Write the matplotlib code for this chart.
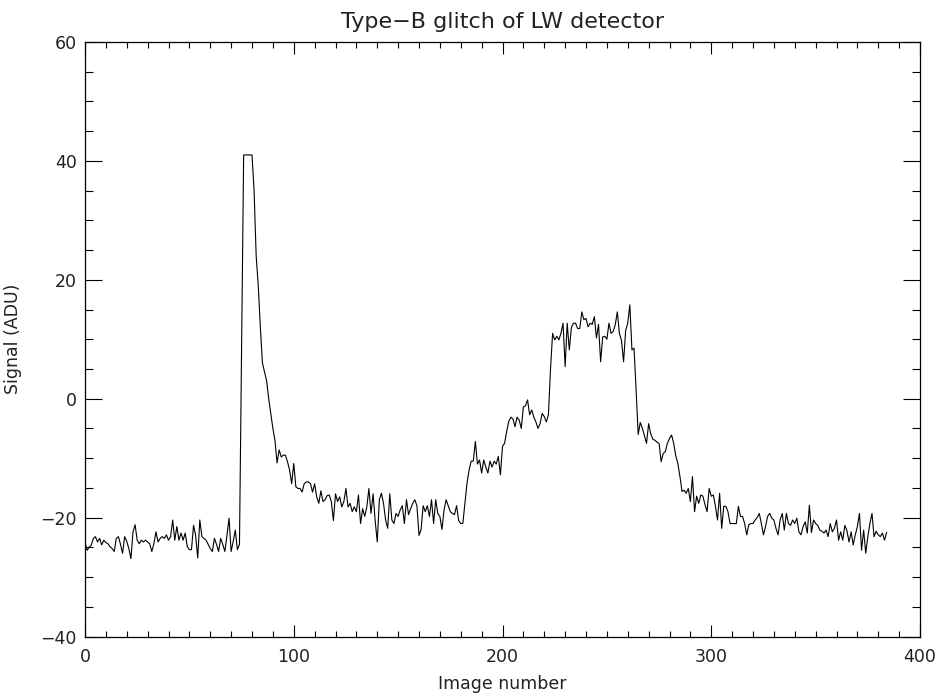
import numpy as np
import matplotlib
matplotlib.use("Agg")
import matplotlib.pyplot as plt
from matplotlib.ticker import MultipleLocator

# ---- data ----
pre_glitch = [
    -24.1, -25.5, -25.0, -24.6, -23.5, -23.2, -24.1, -23.5, -24.6, -23.8,
    -24.2, -24.4, -24.9, -25.2, -25.7, -23.5, -23.2, -24.5, -26.0, -23.2,
    -24.0, -25.2, -26.9, -22.4, -21.2, -23.8, -24.4, -23.8, -24.1, -23.8,
    -24.1, -24.4, -25.7, -24.4, -22.4, -24.1, -23.5, -23.2, -23.5, -22.9,
    -23.8, -23.2, -20.4, -23.8, -21.5, -23.8, -22.6, -23.8, -22.6, -24.9,
    -25.4, -25.4, -21.3, -23.0, -26.8, -20.4, -23.2, -23.5, -23.8, -24.5,
    -25.2, -25.7, -23.5, -24.5, -25.7, -23.5, -24.5, -25.7, -23.0, -20.1,
    -25.7, -24.0, -22.1, -25.4, -24.5,
]
glitch_spike = [8, 41, 41, 41, 41, 41, 35, 24, 19, 12, 6, 4.5, 3, 0, -2.5, -5, -7, -10.8]
decay = [
    -8.6, -9.8, -9.5, -9.5, -10.6, -12.0, -14.3, -10.9, -14.8, -15.1,
    -15.1, -15.7, -14.3, -14.0, -14.0, -14.3, -15.7, -14.3, -16.5, -17.6,
    -15.5, -17.3, -17.0, -16.3, -16.2, -17.3, -20.5, -16.0, -17.3, -16.5,
    -18.2, -17.3, -15.1, -18.2, -17.6, -19.0, -18.2, -19.0, -16.2, -21.0,
    -18.5, -19.8, -18.2, -15.1, -19.3, -16.0, -20.5, -24.1, -17.0, -15.9,
    -17.6,
]
baseline_mid = [
    -20.4, -21.8, -16.0, -20.4, -21.0, -19.3, -19.8, -18.7, -18.0, -21.0,
    -17.0, -19.5, -18.5, -17.6, -17.0, -18.0, -23.0, -22.0, -18.0, -19.0,
    -18.0, -19.8, -17.0, -21.0, -17.0, -19.3, -19.8, -22.0, -18.7, -17.0,
    -18.0, -19.0, -19.3, -19.5, -18.0, -20.5, -21.0, -21.0, -17.6, -14.2,
    -12.0, -10.5, -10.5, -7.2, -11.0, -10.3,
]
step_up = [
    -12.5, -10.3, -11.5, -12.5, -10.5, -11.5, -10.5, -11.0, -9.7, -12.8,
    -8.0, -7.5, -5.5, -3.8, -3.1, -3.4, -4.7, -3.1, -3.6, -5.0,
    -1.4, -1.2, -0.2, -2.7, -1.9, -3.1, -3.9, -5.0, -4.2, -2.5,
    -3.0, -3.9, -2.7, 5.0, 11.0, 9.9, 10.5, 9.9, 11.0, 12.7,
    5.4, 12.7, 8.2, 12.0, 12.7, 12.7, 11.8, 11.8, 14.6, 13.3,
]
plateau_high = [
    13.5, 12.1, 12.7, 12.5, 13.8, 10.2, 12.5, 6.2, 10.4, 10.5,
    10.0, 12.7, 11.0, 11.3, 12.4, 14.6, 11.0, 9.8, 6.2, 11.5,
    12.7, 15.8, 8.2, 8.5, 1.5, -6.0, -4.0, -5.0, -6.2, -7.5,
    -4.2, -5.9, -6.8, -7.0, -7.3, -7.5, -10.6, -9.2, -8.9, -7.5,
    -6.7, -6.1, -7.5, -9.6, -10.9, -13.1,
]
tail_a = [
    -15.6, -15.4, -15.9, -15.1, -17.3,
    -13.1, -19.0, -16.4, -17.6, -16.2, -16.4, -17.8, -19.0, -15.1, -16.4,
    -16.2, -18.1, -20.4, -15.9, -21.8, -18.1, -18.1, -19.0, -21.0, -21.0,
    -21.0, -21.0, -18.1, -19.8, -19.8, -21.0, -22.9, -21.2, -21.0, -21.0,
    -20.4, -20.0, -19.3, -21.0, -22.9, -21.5, -19.8, -19.3, -20.1, -20.4,
    -21.8, -22.9, -20.4, -19.3,
]
tail_b = [
    -22.1, -19.3, -21.0, -21.3, -20.4, -21.0, -20.1, -22.4, -22.9, -21.5,
    -20.7, -22.6, -17.9, -22.5, -20.4, -21.0, -21.3, -22.1, -22.3, -22.6,
    -22.1, -23.2, -21.0, -22.4, -21.8, -20.4, -23.8, -22.4, -23.8, -21.3,
    -22.2, -24.1, -22.4, -24.6, -22.9, -21.5, -19.3, -25.5, -22.1, -26.0,
    -23.2, -21.0, -19.3, -23.2, -22.3, -22.9, -23.2, -22.6, -23.8, -22.5,
]

signal = np.concatenate([pre_glitch, glitch_spike, decay, baseline_mid,
                         step_up, plateau_high, tail_a, tail_b])
image_number = np.arange(len(signal))

title = "Type\u2212B glitch of LW detector"
xlabel = "Image number"
ylabel = "Signal (ADU)"

# ---- figure ----
txt = "#222222"
fs = 12.5
fig = plt.figure(figsize=(9.43, 6.97), dpi=100)
ax = fig.add_axes([85 / 943, 1 - 636.5 / 697, 835 / 943, 594.5 / 697])

ax.plot(image_number, signal, color="black", lw=0.8)

ax.set_xlim(0, 400)
ax.set_ylim(-40, 60)
ax.xaxis.set_major_locator(MultipleLocator(100))
ax.xaxis.set_minor_locator(MultipleLocator(10))
ax.yaxis.set_major_locator(MultipleLocator(20))
ax.yaxis.set_minor_locator(MultipleLocator(5))

ax.tick_params(axis="both", which="both", direction="in", top=True, right=True,
               color="black", width=0.8, labelcolor=txt, labelsize=fs)
ax.tick_params(axis="x", which="major", length=8.6, pad=8)
ax.tick_params(axis="x", which="minor", length=4.3)
ax.tick_params(axis="y", which="major", length=12, pad=6)
ax.tick_params(axis="y", which="minor", length=6)
for s in ax.spines.values():
    s.set_linewidth(0.9)

ax.set_title(title, fontsize=16, color=txt, pad=10)
ax.set_xlabel(xlabel, fontsize=fs, color=txt)
ax.xaxis.set_label_coords(0.5, -0.064)
ax.set_ylabel(ylabel, fontsize=fs, color=txt)
ax.yaxis.set_label_coords(-0.076, 0.5)

fig.savefig("out.png", dpi=100)
